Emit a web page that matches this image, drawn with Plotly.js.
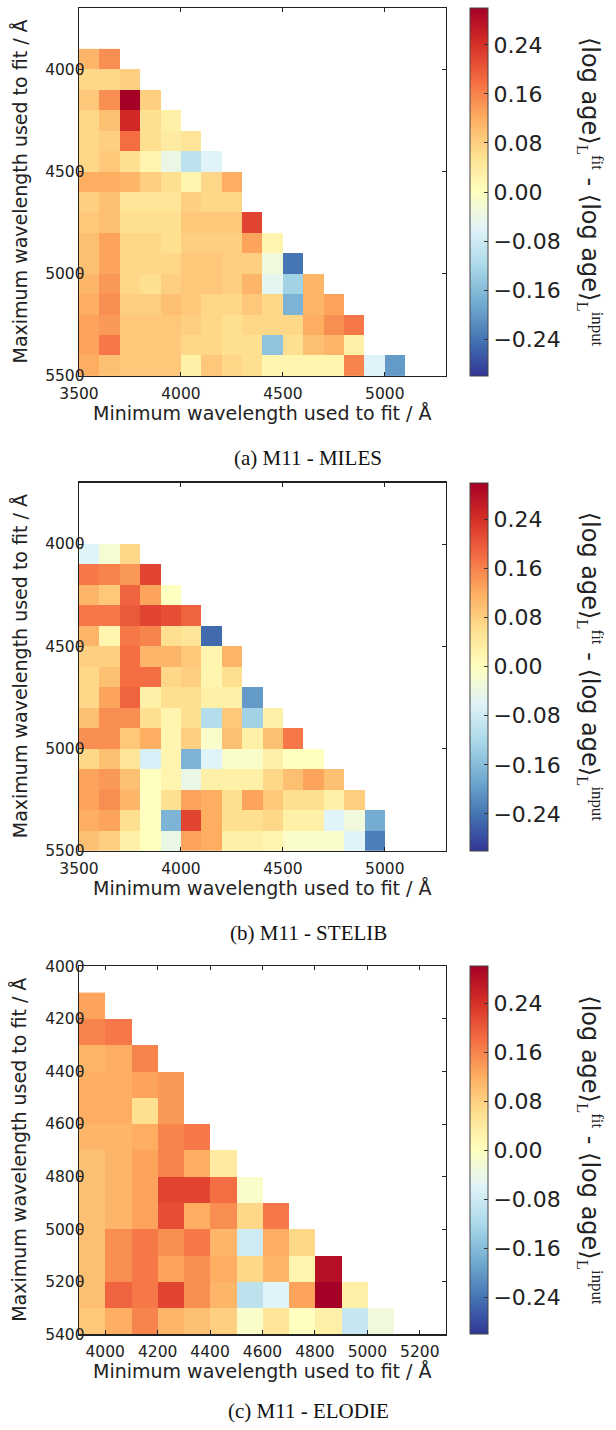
<!DOCTYPE html>
<html><head><meta charset="utf-8">
<script src="https://cdn.plot.ly/plotly-3.0.1.min.js"></script>
<style>html,body{margin:0;padding:0;background:#fff}</style>
</head><body><div id="chart" style="width:616px;height:1430px"></div>
<script>
// ---------- data ----------
// (a) M11 - MILES : columns = minimum wavelength (cell lower edge), rows = maximum wavelength
const milesMinWl = [3500,3600,3700,3800,3900,4000,4100,4200,4300,4400,4500,4600,4700,4800,4900,5000];
const milesMaxWl = [3900,4000,4100,4200,4300,4400,4500,4600,4700,4800,4900,5000,5100,5200,5300,5400];
const milesValues = [
  [0.11,0.15],
  [0.07,0.07,0.08],
  [0.09,0.15,0.30,0.08],
  [0.07,0.10,0.25,0.06,0.03],
  [0.07,0.08,0.18,0.06,0.04,0.05],
  [0.07,0.09,0.06,0.02,-0.04,-0.10,-0.06],
  [0.12,0.12,0.11,0.08,0.06,0.02,0.07,0.12],
  [0.08,0.10,0.05,0.05,0.05,0.08,0.07,0.07],
  [0.09,0.10,0.06,0.06,0.06,0.09,0.09,0.09,0.22],
  [0.10,0.13,0.07,0.07,0.06,0.08,0.08,0.08,0.13,0.02],
  [0.10,0.13,0.07,0.07,0.07,0.09,0.09,0.08,0.08,-0.03,-0.24],
  [0.11,0.14,0.07,0.06,0.08,0.09,0.09,0.08,0.11,-0.05,-0.13,0.11],
  [0.12,0.15,0.08,0.08,0.10,0.09,0.07,0.07,0.09,0.07,-0.17,0.11,0.13],
  [0.13,0.14,0.09,0.09,0.09,0.08,0.07,0.06,0.07,0.07,0.07,0.12,0.15,0.17],
  [0.13,0.17,0.09,0.09,0.09,0.07,0.07,0.06,0.06,-0.15,0.06,0.10,0.11,0.03],
  [0.12,0.10,0.09,0.09,0.09,0.03,0.09,0.07,0.06,0.02,0.02,0.02,0.02,0.16,-0.06,-0.20]
];
// (b) M11 - STELIB
const stelibMinWl = [3500,3600,3700,3800,3900,4000,4100,4200,4300,4400,4500,4600,4700,4800,4900];
const stelibMaxWl = [4000,4100,4200,4300,4400,4500,4600,4700,4800,4900,5000,5100,5200,5300,5400];
const stelibValues = [
  [-0.06,-0.02,0.07],
  [0.17,0.16,0.14,0.22],
  [0.11,0.09,0.19,0.13,0.00],
  [0.17,0.17,0.20,0.22,0.21,0.19],
  [0.11,0.02,0.17,0.16,0.06,0.05,-0.25],
  [0.08,0.08,0.18,0.11,0.11,0.09,0.02,0.11],
  [0.07,0.10,0.18,0.18,0.07,0.08,0.02,0.06],
  [0.07,0.13,0.19,0.03,0.06,0.06,0.03,0.03,-0.20],
  [0.10,0.15,0.15,0.06,0.02,0.06,-0.11,0.09,-0.13,0.03],
  [0.15,0.15,0.09,0.12,0.02,0.08,-0.01,0.10,0.03,0.10,0.17],
  [0.07,0.10,0.05,-0.07,0.02,-0.17,-0.06,-0.01,-0.01,0.03,0.00,0.00],
  [0.13,0.14,0.10,0.00,0.02,-0.04,0.03,0.03,0.03,0.07,0.10,0.13,0.10],
  [0.13,0.15,0.11,0.00,0.06,0.13,0.12,0.06,0.13,0.09,0.06,0.06,0.03,0.08],
  [0.12,0.13,0.06,0.00,-0.17,0.22,0.12,0.06,0.06,0.07,0.03,0.03,-0.06,-0.03,-0.18],
  [0.10,0.08,0.03,0.00,-0.04,0.13,0.12,0.03,0.03,0.02,-0.01,-0.01,-0.01,-0.06,-0.23]
];
// (c) M11 - ELODIE
const elodieMinWl = [3900,4000,4100,4200,4300,4400,4500,4600,4700,4800,4900,5000];
const elodieMaxWl = [4100,4200,4300,4400,4500,4600,4700,4800,4900,5000,5100,5200,5300];
const elodieValues = [
  [0.13],
  [0.16,0.17],
  [0.11,0.12,0.16],
  [0.12,0.12,0.13,0.14],
  [0.12,0.12,0.06,0.14],
  [0.11,0.11,0.12,0.16,0.17],
  [0.10,0.11,0.13,0.16,0.12,0.04],
  [0.10,0.11,0.13,0.22,0.22,0.18,-0.01],
  [0.10,0.11,0.13,0.21,0.12,0.15,0.07,0.17],
  [0.10,0.15,0.17,0.15,0.17,0.11,-0.08,0.12,0.07],
  [0.10,0.15,0.17,0.13,0.15,0.12,0.07,0.11,0.02,0.28],
  [0.10,0.19,0.17,0.22,0.15,0.11,-0.10,-0.06,0.13,0.31,0.03],
  [0.09,0.12,0.16,0.11,0.10,0.08,-0.01,0.05,0.00,0.03,-0.09,-0.03]
];
const panelCaptions = ['(a) M11 - MILES','(b) M11 - STELIB','(c) M11 - ELODIE'];
const xTitle = 'Minimum wavelength used to fit / Å';
const yTitle = 'Maximum wavelength used to fit / Å';
const cbTickVals = [-0.24,-0.16,-0.08,0.00,0.08,0.16,0.24];
const cbTickText = ['\u22120.24','\u22120.16','\u22120.08','0.00','0.08','0.16','0.24'];
const ticksAB_x = [3500,4000,4500,5000];
const ticksAB_y = [4000,4500,5000,5500];
const ticksC_x = [4000,4200,4400,4600,4800,5000,5200];
const ticksC_y = [4000,4200,4400,4600,4800,5000,5200,5400];

// ---------- layout helpers ----------
const W = 616, H = 1430;
const FONT = 'DejaVu Sans, sans-serif';
const SERIF = 'Liberation Serif, DejaVu Serif, serif';
const rdylbuR = [[0,'#313695'],[0.1,'#4575b4'],[0.2,'#74add1'],[0.3,'#abd9e9'],[0.4,'#e0f3f8'],
  [0.5,'#ffffbf'],[0.6,'#fee090'],[0.7,'#fdae61'],[0.8,'#f46d43'],[0.9,'#d73027'],[1,'#a50026']];

function edges(arr){ const step = arr[1]-arr[0]; return arr.concat([arr[arr.length-1]+step]); }
function pad(rows, n){ return rows.map(r => r.concat(new Array(n - r.length).fill(null))); }

const plotLeft = 79, plotRight = 446;
const panelTops = [8, 482.7, 966.3];
const panelH = 368;
const captionY = [458, 933, 1411];

const sets = [
  {minWl: milesMinWl, maxWl: milesMaxWl, vals: milesValues, xr:[3500,5300], yr:[5500,3700], xt:ticksAB_x, yt:ticksAB_y},
  {minWl: stelibMinWl, maxWl: stelibMaxWl, vals: stelibValues, xr:[3500,5300], yr:[5500,3700], xt:ticksAB_x, yt:ticksAB_y},
  {minWl: elodieMinWl, maxWl: elodieMaxWl, vals: elodieValues, xr:[3900,5300], yr:[5400,4000], xt:ticksC_x, yt:ticksC_y}
];

const sr = t => '<span style="font-family:Liberation Serif">' + t + '</span>';
const cbTitle = '\u27e8log age\u27e9<sub>' + sr('L') + '</sub><sup>' + sr('fit') + '</sup>'
  + ' - \u27e8log age\u27e9<sub>' + sr('L') + '</sub><sup>' + sr('input') + '</sup>';

const traces = [], annotations = [];
const layout = {
  width: W, height: H, margin:{l:0,r:0,t:0,b:0},
  paper_bgcolor:'#fff', plot_bgcolor:'#fff',
  font:{family:FONT, color:'#222'},
  showlegend:false
};

sets.forEach((s, i) => {
  const k = i === 0 ? '' : String(i+1);
  const top = panelTops[i], bot = top + panelH;
  const yc = 1 - (top + bot)/2/H;
  traces.push({
    type:'heatmap',
    x: edges(s.minWl), y: edges(s.maxWl), z: pad(s.vals, s.minWl.length),
    xaxis:'x'+k, yaxis:'y'+k,
    colorscale: rdylbuR, zmin:-0.30, zmax:0.30, zsmooth:false,
    hoverongaps:false,
    colorbar:{
      x: 470/W, xanchor:'left', xpad:0, ypad:0,
      y: yc, yanchor:'middle', len: panelH/H, lenmode:'fraction',
      thickness:18, thicknessmode:'pixels',
      outlinewidth:1, outlinecolor:'#444',
      ticks:'inside', ticklen:4, tickcolor:'#333', tickwidth:1,
      tickvals: cbTickVals, ticktext: cbTickText,
      tickfont:{size:22, family:FONT, color:'#222'}
    }
  });
  const axCommon = {
    showline:true, linecolor:'#222', linewidth:1.3, mirror:'ticks',
    ticks:'inside', ticklen:4, tickcolor:'#222', tickwidth:1,
    showgrid:false, zeroline:false, tickfont:{size:15.5, family:FONT, color:'#222'},
    tickmode:'array', automargin:false
  };
  layout['xaxis'+k] = Object.assign({}, axCommon, {
    domain:[plotLeft/W, plotRight/W], range:s.xr, tickvals:s.xt,
    anchor:'y'+k, ticklabelstandoff:3
  });
  layout['yaxis'+k] = Object.assign({}, axCommon, {
    domain:[1 - bot/H, 1 - top/H], range:s.yr, tickvals:s.yt,
    anchor:'x'+k, ticklabelstandoff:-10
  });
  // axis titles
  annotations.push({
    xref:'paper', yref:'paper', x: (plotLeft+plotRight)/2/W, y: 1 - (bot+37)/H,
    xanchor:'center', yanchor:'middle', text: xTitle, showarrow:false, borderpad:0,
    font:{size:19, family:FONT, color:'#222'}
  });
  annotations.push({
    xref:'paper', yref:'paper', x: 19.5/W, y: yc,
    xanchor:'center', yanchor:'middle', text: yTitle, textangle:-90, showarrow:false,
    font:{size:19, family:FONT, color:'#222'}
  });
  // colorbar label
  annotations.push({
    xref:'paper', yref:'paper', x: 590/W, y: yc, xanchor:'center', yanchor:'middle',
    text: cbTitle, textangle:90, showarrow:false,
    font:{size:24, family:FONT, color:'#222'}
  });
  // caption
  annotations.push({
    xref:'paper', yref:'paper', x: 0.5, y: 1 - captionY[i]/H, xanchor:'center', yanchor:'middle',
    text: panelCaptions[i], showarrow:false,
    font:{size:21, family:SERIF, color:'#111'}
  });
});
layout.annotations = annotations;

Plotly.newPlot('chart', traces, layout, {staticPlot:true, displayModeBar:false});
</script></body></html>
